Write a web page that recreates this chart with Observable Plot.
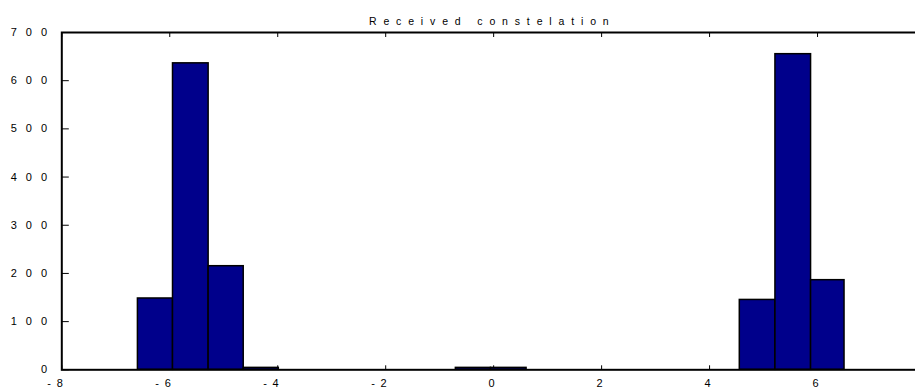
<!DOCTYPE html>
<html>
<head>
<meta charset="utf-8">
<script src="https://cdn.jsdelivr.net/npm/d3@7"></script>
<script src="https://cdn.jsdelivr.net/npm/@observablehq/plot@0.6"></script>
<style>
  html, body { margin: 0; padding: 0; background: #fff; overflow: hidden; }
  svg { font-family: "Liberation Sans", Arial, sans-serif; }
  g[aria-label="y-axis tick label"] text { letter-spacing: 9px; }
  g[aria-label="x-axis tick label"] text { letter-spacing: 5.7px; }
</style>
</head>
<body>
<div id="chart"></div>
<script>
const title = "Received constelation";
// histogram bin edges (21 edges -> 20 bins) and counts per bin
const binEdges = [-6.59, -5.94, -5.28, -4.63, -3.98, -3.32, -2.67, -2.01, -1.36, -0.70,
                  -0.05, 0.61, 1.26, 1.92, 2.57, 3.23, 3.88, 4.56, 5.22, 5.88, 6.50];
const counts = [148, 636, 215, 4, 0, 0, 0, 0, 0, 4,
                4, 0, 0, 0, 0, 0, 0, 145, 655, 186];
const xTicks = [-8, -6, -4, -2, 0, 2, 4, 6];
const yTicks = [0, 100, 200, 300, 400, 500, 600, 700];

const bins = counts.map((c, i) => ({x1: binEdges[i], x2: binEdges[i + 1], count: c}));

const chart = Plot.plot({
  width: 915,
  height: 388,
  marginLeft: 61.3,
  marginTop: 32,
  marginBottom: 18.7,
  marginRight: -10,
  style: {fontSize: "11px", background: "#fff", color: "#000"},
  x: {domain: [-8, 8]},
  y: {domain: [0, 700]},
  marks: [
    // inward tick marks (gnuplot style)
    Plot.axisY(yTicks, {anchor: "left", tickSize: -7.5, fill: "none", label: null, strokeWidth: 1}),
    Plot.axisY(yTicks, {anchor: "right", tickSize: -11, fill: "none", label: null, strokeWidth: 1}),
    Plot.axisX(xTicks, {anchor: "top", tickSize: -4, fill: "none", label: null, strokeWidth: 1}),
    Plot.axisX(xTicks, {anchor: "bottom", tickSize: -4, fill: "none", label: null, strokeWidth: 1}),
    // tick labels
    Plot.axisY(yTicks, {anchor: "left", tickSize: 0, tickPadding: 5.8, label: null, tickFormat: d => String(d)}),
    Plot.axisX(xTicks, {anchor: "bottom", tickSize: 0, tickPadding: 9.4, label: null,
      tickFormat: d => String(d), textAnchor: "end", dx: 6.7}),
    // histogram boxes
    Plot.rectY(bins, {x1: "x1", x2: "x2", y: "count", fill: "#00008b", stroke: "#000", strokeWidth: 1.5}),
    Plot.frame({stroke: "#000", strokeWidth: 2}),
    Plot.text([title], {text: d => d, frameAnchor: "top", dy: -14.7, dx: -1.4, fontSize: 10.5})
  ]
});
document.getElementById("chart").appendChild(chart);
d3.select(chart).selectAll("text")
  .filter(function () { return this.textContent === title; })
  .style("letter-spacing", "6.85px");
</script>
</body>
</html>
